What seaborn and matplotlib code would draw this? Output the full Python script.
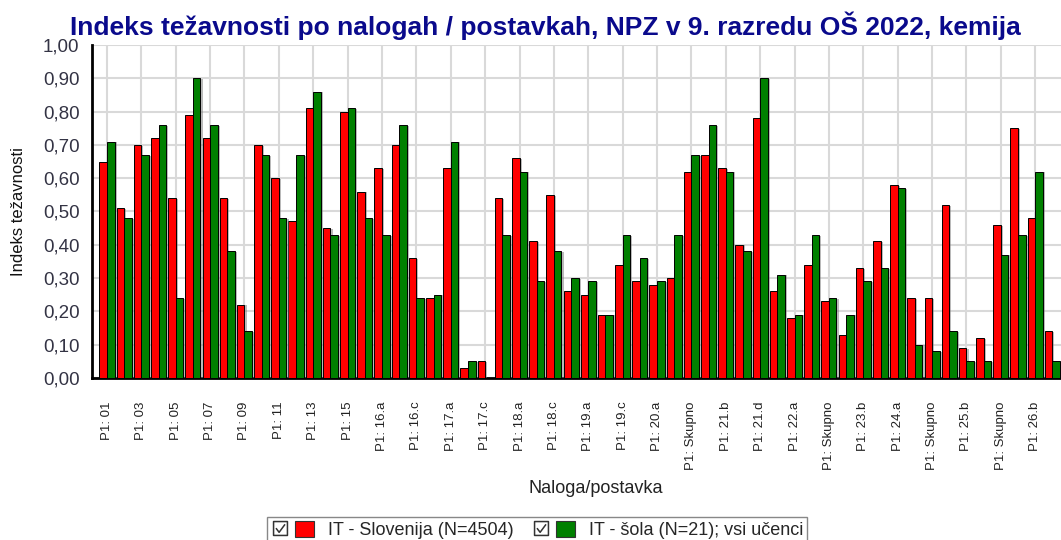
import matplotlib
matplotlib.use("Agg")
import matplotlib.pyplot as plt
import matplotlib.patheffects as pe
import seaborn as sns
import numpy as np
import pandas as pd
from matplotlib.patches import Patch
from matplotlib.lines import Line2D
from matplotlib.path import Path
from matplotlib.legend_handler import HandlerTuple
from matplotlib.ticker import FuncFormatter, MultipleLocator

# postavke (vsaka druga je izpisana na osi)
categories = [
    "P1: 01", "P1: 02", "P1: 03", "P1: 04", "P1: 05", "P1: 06", "P1: 07", "P1: 08",
    "P1: 09", "P1: 10", "P1: 11", "P1: 12", "P1: 13", "P1: 14", "P1: 15", "P1: 16",
    "P1: 16.a", "P1: 16.b", "P1: 16.c", "P1: Skupno",
    "P1: 17.a", "P1: 17.b", "P1: 17.c", "P1: Skupno",
    "P1: 18.a", "P1: 18.b", "P1: 18.c", "P1: Skupno",
    "P1: 19.a", "P1: 19.b", "P1: 19.c", "P1: Skupno",
    "P1: 20.a", "P1: 20.b", "P1: Skupno",
    "P1: 21.a", "P1: 21.b", "P1: 21.c", "P1: 21.d", "P1: Skupno",
    "P1: 22.a", "P1: 22.b", "P1: Skupno",
    "P1: 23.a", "P1: 23.b", "P1: Skupno",
    "P1: 24.a", "P1: 24.b", "P1: Skupno",
    "P1: 25.a", "P1: 25.b", "P1: 25.c", "P1: Skupno",
    "P1: 26.a", "P1: 26.b", "P1: Skupno",
]

it_slovenija = [0.65, 0.51, 0.70, 0.72, 0.54, 0.79, 0.72, 0.54, 0.22, 0.70,
                0.60, 0.47, 0.81, 0.45, 0.80, 0.56, 0.63, 0.70, 0.36, 0.24,
                0.63, 0.03, 0.05, 0.54, 0.66, 0.41, 0.55, 0.26, 0.25, 0.19,
                0.34, 0.29, 0.28, 0.30, 0.62, 0.67, 0.63, 0.40, 0.78, 0.26,
                0.18, 0.34, 0.23, 0.13, 0.33, 0.41, 0.58, 0.24, 0.24, 0.52,
                0.09, 0.12, 0.46, 0.75, 0.48, 0.14]

it_sola = [0.71, 0.48, 0.67, 0.76, 0.24, 0.90, 0.76, 0.38, 0.14, 0.67,
           0.48, 0.67, 0.86, 0.43, 0.81, 0.48, 0.43, 0.76, 0.24, 0.25,
           0.71, 0.05, 0.00, 0.43, 0.62, 0.29, 0.38, 0.30, 0.29, 0.19,
           0.43, 0.36, 0.29, 0.43, 0.67, 0.76, 0.62, 0.38, 0.90, 0.31,
           0.19, 0.43, 0.24, 0.19, 0.29, 0.33, 0.57, 0.10, 0.08, 0.14,
           0.05, 0.05, 0.37, 0.43, 0.62, 0.05]

series_names = ["IT - Slovenija (N=4504)", "IT - šola (N=21); vsi učenci"]
series_colors = ["#FF0000", "#008000"]

sns.set_style("white")
plt.rcParams["font.family"] = ["Liberation Sans", "DejaVu Sans"]

n = len(categories)
df = pd.DataFrame({
    "poz": list(range(n)) * 2,
    "serija": [series_names[0]] * n + [series_names[1]] * n,
    "indeks": it_slovenija + it_sola,
})

W, H = 1061, 540
fig = plt.figure(figsize=(W / 100, H / 100), dpi=100)
ax = fig.add_axes([92 / W, 1 - 378 / H, 969 / W, 333 / H])

sns.barplot(data=df, x="poz", y="indeks", hue="serija", palette=series_colors,
            hue_order=series_names, width=0.88, saturation=1,
            edgecolor="black", linewidth=0.7, legend=False, ax=ax, zorder=3)

# rahla senca desno od stolpcev
for bar in ax.patches:
    bar.set_path_effects([pe.SimplePatchShadow(offset=(1.5, -0.5), shadow_rgbFace="#777777", alpha=0.5),
                          pe.Normal()])

ax.set_xlim(-0.87, n - 0.53)
ax.set_ylim(0, 1.0)

# osi
ax.set_xticks(range(0, n, 2))
ax.set_xticklabels(categories[::2], rotation=90, fontsize=9.5, color="#222222")
ax.set_xticks(np.arange(-0.5, n, 0.5), minor=True)
ax.yaxis.set_major_locator(MultipleLocator(0.1))
ax.yaxis.set_minor_locator(MultipleLocator(0.02))
ax.yaxis.set_major_formatter(FuncFormatter(lambda v, p: f"{v:.2f}".replace(".", ",")))
ax.tick_params(axis="y", which="major", labelsize=13.5, labelcolor="#333344",
               color="#999999", length=5, width=1, pad=4)
ax.tick_params(axis="y", which="minor", color="#aaaaaa", length=4, width=0.8)
ax.tick_params(axis="x", which="both", color="#aaaaaa", length=4, width=0.8, pad=13)

ax.grid(True, which="major", color="#d9d9d9", linewidth=1.5, zorder=0)
ax.set_axisbelow(True)
for s in ["top", "right"]:
    ax.spines[s].set_visible(False)
for s in ["left", "bottom"]:
    ax.spines[s].set_color("black")
    ax.spines[s].set_linewidth(2)

ax.set_ylabel("Indeks težavnosti", fontsize=12, color="#111111")
ax.yaxis.set_label_coords(-0.068, 0.5)
ax.set_xlabel("Naloga/postavka", fontsize=13, color="#222222")
ax.xaxis.set_label_coords(0.52, -0.305)

fig.text(545 / W, 1 - 26 / H,
         "Indeks težavnosti po nalogah / postavkah, NPZ v 9. razredu OŠ 2022, kemija",
         ha="center", va="center", fontsize=19, fontweight="bold", color="#0a0a8c")

# legenda s potrditvenim poljem
box = Path([(-1, -1), (1, -1), (1, 1), (-1, 1), (-1, -1),
            (-0.65, 0.05), (-0.2, -0.55), (0.65, 0.6)],
           [Path.MOVETO, Path.LINETO, Path.LINETO, Path.LINETO, Path.CLOSEPOLY,
            Path.MOVETO, Path.LINETO, Path.LINETO])
handles = []
for c in series_colors:
    chk = Line2D([], [], linestyle="none", marker=box, markersize=10,
                 markerfacecolor="white", markeredgecolor="#333333", markeredgewidth=1.1)
    handles.append((chk, Patch(facecolor=c, edgecolor="#333333", linewidth=0.8)))
fig.legend(handles, series_names, loc="upper center",
           bbox_to_anchor=(537 / W, 1 - 517 / H), ncol=2, fontsize=13,
           frameon=True, fancybox=False, edgecolor="#888888", framealpha=1,
           handler_map={tuple: HandlerTuple(ndivide=None, pad=0.3)},
           handlelength=2.4, handleheight=1.0, columnspacing=1.0,
           borderpad=0.2, borderaxespad=0)

fig.savefig("out.png", dpi=100)
